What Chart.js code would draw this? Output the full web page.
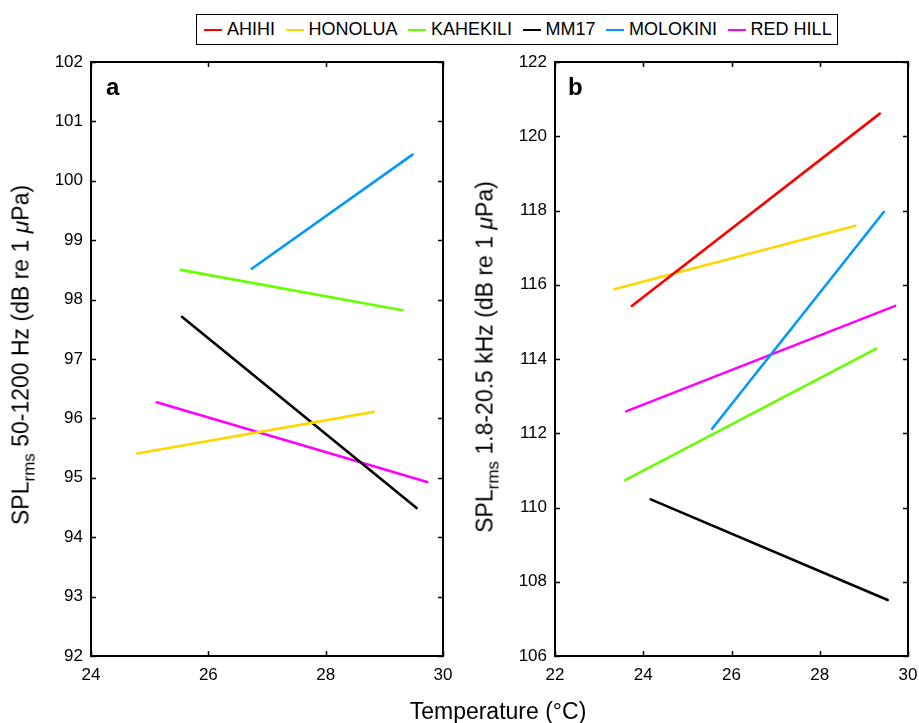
<!DOCTYPE html>
<html>
<head>
<meta charset="utf-8">
<script src="https://cdn.jsdelivr.net/npm/chart.js@4.4.1/dist/chart.umd.min.js"></script>
<style>
  html, body { margin: 0; padding: 0; background: #fff; }
  body { width: 919px; height: 723px; position: relative; overflow: hidden;
         font-family: "Liberation Sans", Arial, Helvetica, sans-serif; color: #000; }
  canvas { position: absolute; top: 0; }
  #cA { left: 0; }
  #cB { left: 460px; }
  .ytitle { position: absolute; font-size: 23px; line-height: 23px; white-space: nowrap;
            transform: translate(-50%, -50%) rotate(-90deg); }
  .ytitle sub { font-size: 17px; line-height: 0; vertical-align: baseline; position: relative; top: 6px; }
  .xtitle { position: absolute; font-size: 23px; line-height: 23px; white-space: nowrap;
            transform: translateX(-50%); }
  .plabel { position: absolute; font-size: 24px; line-height: 24px; font-weight: bold; }
  #legend { position: absolute; left: 196px; top: 14px; height: 29px; border: 1px solid #000;
            display: inline-flex; align-items: center; gap: 10.5px; padding: 0 5px 0 7px;
            font-size: 18px; background: #fff; }
  #legend .item { display: flex; align-items: center; }
  #legend .swatch { width: 18px; height: 2px; margin-right: 5px; }
</style>
</head>
<body>
<canvas id="cA" width="460" height="723"></canvas>
<canvas id="cB" width="459" height="723"></canvas>
<div id="legend"></div>
<div class="plabel" style="left:106px; top:75px;">a</div>
<div class="plabel" style="left:568px; top:75px;">b</div>
<div class="ytitle" style="left:21px; top:355px;">SPL<sub>rms</sub> 50-1200 Hz (dB re 1 <i>μ</i>Pa)</div>
<div class="ytitle" style="left:485px; top:357px;">SPL<sub>rms</sub> 1.8-20.5 kHz (dB re 1 <i>μ</i>Pa)</div>
<div class="xtitle" style="left:498px; top:700px;">Temperature (°C)</div>
<script>
// ---- data ----
const sites = ["AHIHI", "HONOLUA", "KAHEKILI", "MM17", "MOLOKINI", "RED HILL"];
const siteColors = ["#ff0000", "#ffd700", "#66ff00", "#000000", "#0099ff", "#ff00ff"];

// Panel a: SPLrms 50-1200 Hz (no AHIHI line)
const tempStartA = [null, 24.79, 25.53, 25.55, 26.74, 25.12];
const tempEndA   = [null, 28.82, 29.31, 29.55, 29.48, 29.73];
const splStartA  = [null, 95.41, 98.50, 97.71, 98.52, 96.27];
const splEndA    = [null, 96.11, 97.82, 94.49, 100.44, 94.93];

// Panel b: SPLrms 1.8-20.5 kHz
const tempStartB = [23.74, 23.34, 23.59, 24.17, 25.56, 23.61];
const tempEndB   = [29.36, 28.81, 29.28, 29.54, 29.45, 29.71];
const splStartB  = [115.43, 115.88, 110.74, 110.22, 112.12, 112.59];
const splEndB    = [120.61, 117.59, 114.28, 107.51, 117.96, 115.43];

// axis ranges / tick steps
const xRangeA = [24, 30], xStepA = 2, yRangeA = [92, 102], yStepA = 1;
const xRangeB = [22, 30], xStepB = 2, yRangeB = [106, 122], yStepB = 2;

// ---- legend (HTML) ----
const legend = document.getElementById('legend');
sites.forEach((s, i) => {
  const it = document.createElement('div');
  it.className = 'item';
  it.innerHTML = '<span class="swatch" style="background:' + siteColors[i] + '"></span><span>' + s + '</span>';
  legend.appendChild(it);
});

// ---- frame + inward ticks on all sides ----
const framePlugin = {
  id: 'frame',
  afterDraw(chart) {
    const { ctx, chartArea: a, scales } = chart;
    const L = 5;
    ctx.save();
    ctx.strokeStyle = '#000';
    ctx.lineWidth = 1.5;
    scales.x.ticks.forEach(t => {
      const px = Math.round(scales.x.getPixelForValue(t.value)) + 0.5;
      ctx.beginPath();
      ctx.moveTo(px, a.bottom); ctx.lineTo(px, a.bottom - L);
      ctx.moveTo(px, a.top); ctx.lineTo(px, a.top + L);
      ctx.stroke();
    });
    scales.y.ticks.forEach(t => {
      const py = Math.round(scales.y.getPixelForValue(t.value)) + 0.5;
      ctx.beginPath();
      ctx.moveTo(a.left, py); ctx.lineTo(a.left + L, py);
      ctx.moveTo(a.right, py); ctx.lineTo(a.right - L, py);
      ctx.stroke();
    });
    ctx.lineWidth = 2;
    ctx.strokeRect(a.left, a.top, a.right - a.left, a.bottom - a.top);
    ctx.restore();
  }
};

function buildDatasets(t0, t1, y0, y1) {
  const ds = [];
  sites.forEach((s, i) => {
    if (t0[i] === null) return;
    ds.push({
      label: s,
      data: [{ x: t0[i], y: y0[i] }, { x: t1[i], y: y1[i] }],
      borderColor: siteColors[i],
      backgroundColor: siteColors[i],
      borderWidth: 2.6,
      pointRadius: 0,
      showLine: true,
      borderCapStyle: 'round'
    });
  });
  return ds;
}

function makeChart(id, datasets, xr, xs, yr, ys, yWidth, padRight) {
  const tickFont = { family: '"Liberation Sans", Arial, sans-serif', size: 17 };
  return new Chart(document.getElementById(id), {
    type: 'scatter',
    data: { datasets },
    options: {
      responsive: false,
      animation: false,
      devicePixelRatio: 1,
      layout: { padding: { top: 62, right: padRight, bottom: 0, left: 0 } },
      plugins: { legend: { display: false }, tooltip: { enabled: false } },
      scales: {
        x: {
          type: 'linear', min: xr[0], max: xr[1],
          grid: { display: false, drawTicks: false, tickLength: 0 },
          border: { display: false },
          ticks: { stepSize: xs, color: '#000', font: tickFont, padding: 9, maxRotation: 0 },
          afterFit(scale) { scale.height = 67; scale.paddingLeft = 0; scale.paddingRight = 0; }
        },
        y: {
          type: 'linear', min: yr[0], max: yr[1],
          grid: { display: false, drawTicks: false, tickLength: 0 },
          border: { display: false },
          ticks: { stepSize: ys, color: '#000', font: tickFont, padding: 8 },
          afterFit(scale) { scale.width = yWidth; scale.paddingTop = 0; scale.paddingBottom = 0; }
        }
      }
    },
    plugins: [framePlugin]
  });
}

makeChart('cA', buildDatasets(tempStartA, tempEndA, splStartA, splEndA), xRangeA, xStepA, yRangeA, yStepA, 91, 17);
makeChart('cB', buildDatasets(tempStartB, tempEndB, splStartB, splEndB), xRangeB, xStepB, yRangeB, yStepB, 95, 11);
</script>
</body>
</html>
